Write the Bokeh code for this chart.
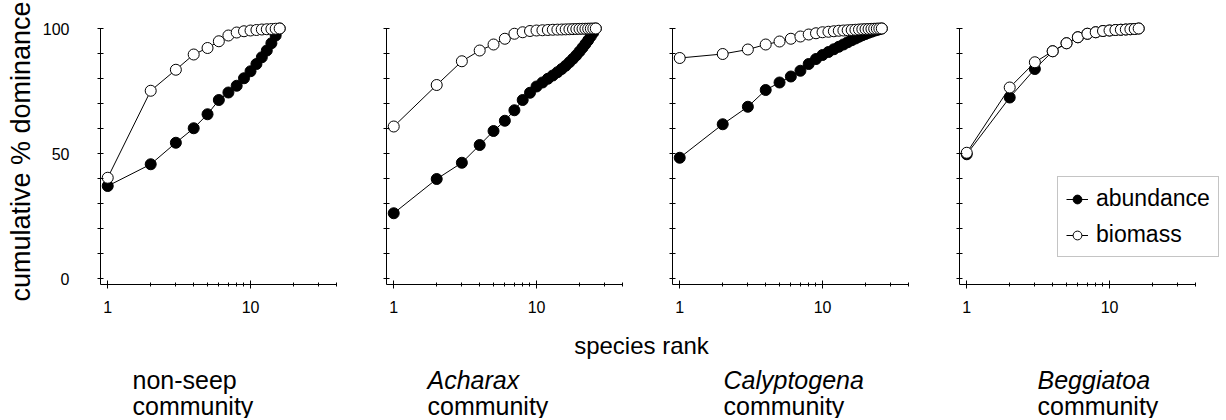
from bokeh.plotting import figure
from bokeh.layouts import row, column
from bokeh.models import (Range1d, FixedTicker, Legend, LegendItem,
                          ColumnDataSource, PrintfTickFormatter)
from bokeh.core.properties import value
from bokeh.embed import file_html
from bokeh.resources import INLINE

# ---------------- data ----------------
nonseep_abundance = [37.0, 45.7, 54.3, 60.1, 65.7, 71.4, 74.4, 77.1, 80.1, 82.9,
                     85.8, 88.5, 91.2, 94.1, 97.2, 100.0]
nonseep_biomass = [40.3, 75.1, 83.5, 89.6, 92.2, 94.9, 97.2, 98.4, 98.9, 99.2,
                   99.4, 99.6, 99.7, 99.8, 99.9, 100.0]

acharax_abundance = [26.1, 39.8, 46.3, 53.4, 59.0, 63.1, 67.3, 71.4, 74.3, 76.8,
                     78.4, 79.9, 81.2, 82.5, 83.8, 85.1, 86.5, 87.9, 89.3, 90.8,
                     92.3, 93.8, 95.3, 96.9, 98.4, 100.0]
acharax_biomass = [60.8, 77.4, 86.9, 91.2, 93.6, 95.9, 97.9, 98.5, 99.0, 99.2,
                   99.3, 99.4, 99.5, 99.55, 99.6, 99.65, 99.7, 99.75, 99.8, 99.85,
                   99.88, 99.9, 99.93, 99.96, 99.98, 100.0]

calyptogena_abundance = [48.3, 61.7, 68.7, 75.4, 78.4, 80.8, 83.1, 85.8, 87.8, 89.4,
                         90.6, 91.7, 92.7, 93.6, 94.5, 95.3, 96.0, 96.7, 97.3, 97.8,
                         98.3, 98.7, 99.1, 99.4, 99.7, 100.0]
calyptogena_biomass = [88.2, 89.8, 91.6, 93.6, 94.8, 95.9, 96.8, 97.6, 98.1, 98.5,
                       98.7, 98.9, 99.1, 99.2, 99.3, 99.4, 99.5, 99.6, 99.7, 99.75,
                       99.8, 99.85, 99.9, 99.95, 100.0, 100.0]

beggiatoa_abundance = [49.7, 72.4, 83.8, 90.9, 94.1, 96.5, 97.9, 98.5, 99.0, 99.2,
                       99.4, 99.5, 99.6, 99.7, 99.8, 100.0]
beggiatoa_biomass = [50.3, 76.4, 86.5, 90.9, 94.1, 96.5, 97.9, 98.5, 99.0, 99.2,
                     99.4, 99.5, 99.6, 99.7, 99.8, 100.0]

community_names = ["non-seep", "Acharax", "Calyptogena", "Beggiatoa"]
community_italic = [False, True, True, True]
community_word = "community"
series_labels = ["abundance", "biomass"]

x_major = [1, 10]
x_minor = [2, 3, 4, 5, 6, 7, 8, 9, 20, 30, 40]
x_tick_labels = ["1", "10"]
y_major = [0, 50, 100]
y_minor = [10, 20, 30, 40, 60, 70, 80, 90]
y_tick_labels = ["0", "50", "100"]

y_title = "cumulative % dominance"
x_title = "species rank"

panels = [
    (nonseep_abundance, nonseep_biomass),
    (acharax_abundance, acharax_biomass),
    (calyptogena_abundance, calyptogena_biomass),
    (beggiatoa_abundance, beggiatoa_biomass),
]

# ---------------- style / layout ----------------
FONT = "Liberation Sans"
X0, X1 = 0.89, 40.0
FRAME_W, FRAME_H = 236, 266
FRAME_WIDTHS = [236, 236, 236, 265]
BORDERS = [(100, 10), (40, 10), (40, 11), (40, 0)]
TOP = 18
PANEL_H = 324
TOTAL_W = 1224
TOTAL_H = 418


def make_panel(i, abund, biom):
    bl, br = BORDERS[i]
    fw = FRAME_WIDTHS[i]
    x_end = X0 * (X1 / X0) ** (fw / FRAME_W)
    p = figure(x_axis_type="log", x_range=Range1d(X0, x_end),
               y_range=Range1d(-2.4, 104),
               frame_width=fw, frame_height=FRAME_H,
               min_border_left=bl, min_border_right=br,
               min_border_top=TOP, min_border_bottom=PANEL_H - TOP - FRAME_H,
               output_backend="svg", toolbar_location=None)
    p.grid.visible = False
    p.outline_line_color = None
    p.background_fill_color = "white"
    p.border_fill_color = "white"

    xa = p.xaxis[0]
    xa.bounds = (X0, X1)
    xa.ticker = FixedTicker(ticks=x_major, minor_ticks=x_minor)
    xa.formatter = PrintfTickFormatter(format="%d")
    xa.major_label_overrides = {t: s for t, s in zip(x_major, x_tick_labels)}
    xa.major_tick_in = 4
    xa.major_tick_out = 4
    xa.minor_tick_in = 2
    xa.minor_tick_out = 2
    xa.major_label_standoff = 12
    xa.major_label_text_font = FONT
    xa.major_label_text_font_size = "16px"
    xa.major_label_text_color = "black"
    xa.axis_line_color = "black"
    xa.major_tick_line_color = "black"
    xa.minor_tick_line_color = "black"

    ya = p.yaxis[0]
    ya.bounds = (-2.4, 100)
    if i == 0:
        ya.ticker = FixedTicker(ticks=y_major, minor_ticks=y_minor)
        ya.major_label_overrides = {t: s for t, s in zip(y_major, y_tick_labels)}
        ya.axis_label = y_title
        ya.axis_label_text_font = FONT
        ya.axis_label_text_font_size = "27px"
        ya.axis_label_text_font_style = "normal"
        ya.axis_label_text_color = "black"
        ya.axis_label_standoff = 4
    else:
        ya.ticker = FixedTicker(ticks=[], minor_ticks=[0] + y_minor + [50, 100])
    ya.major_tick_in = 3
    ya.major_tick_out = 3
    ya.minor_tick_in = 3
    ya.minor_tick_out = 3
    ya.major_label_standoff = 28
    ya.major_label_text_font = FONT
    ya.major_label_text_font_size = "16px"
    ya.major_label_text_color = "black"
    ya.axis_line_color = "black"
    ya.major_tick_line_color = "black"
    ya.minor_tick_line_color = "black"

    ra = list(range(1, len(abund) + 1))
    rb = list(range(1, len(biom) + 1))
    la = p.line(ra, abund, line_color="black", line_width=1)
    sa = p.scatter(ra, abund, marker="circle", size=11, fill_color="black",
                   line_color="black", line_width=1)
    lb = p.line(rb, biom, line_color="black", line_width=1)
    sb = p.scatter(rb, biom, marker="circle", size=11, fill_color="white",
                   line_color="black", line_width=1)
    return p, (la, sa, lb, sb)


figs = []
rends = []
for i, (a, b) in enumerate(panels):
    f, r = make_panel(i, a, b)
    figs.append(f)
    rends.append(r)

la, sa, lb, sb = rends[3]
legend = Legend(items=[LegendItem(label=series_labels[0], renderers=[la, sa]),
                       LegendItem(label=series_labels[1], renderers=[lb, sb])],
                location=(98, 27), margin=0,
                label_text_font=FONT, label_text_font_size="23px",
                label_text_color="black",
                glyph_width=22, glyph_height=22, label_height=26,
                spacing=9, padding=8, label_standoff=8,
                border_line_color="#8a8a8a", border_line_width=1,
                background_fill_color="white", background_fill_alpha=1)
figs[3].add_layout(legend)

# ---------------- bottom text strip ----------------
bottom = figure(width=TOTAL_W, height=TOTAL_H - PANEL_H,
                x_range=Range1d(0, TOTAL_W),
                y_range=Range1d(TOTAL_H, PANEL_H),
                x_axis_location=None, y_axis_location=None,
                min_border=0, output_backend="svg", toolbar_location=None)
bottom.grid.visible = False
bottom.outline_line_color = None

bottom.text(x=[641], y=[345], text=[x_title], text_font=value(FONT),
            text_font_size=value("24px"), text_align="center",
            text_baseline="alphabetic", text_color="black")

name_x = [132, 427, 723, 1037]
src = ColumnDataSource(dict(
    x=name_x,
    y1=[379] * 4,
    y2=[405] * 4,
    name=community_names,
    word=[community_word] * 4,
    style=["italic" if it else "normal" for it in community_italic],
))
bottom.text(x="x", y="y1", text="name", source=src, text_font=value(FONT),
            text_font_size=value("25px"), text_font_style="style",
            text_align="left", text_baseline="alphabetic", text_color="black")
bottom.text(x="x", y="y2", text="word", source=src, text_font=value(FONT),
            text_font_size=value("25px"), text_align="left",
            text_baseline="alphabetic", text_color="black")

layout = column(row(*figs, spacing=0), bottom, spacing=0)

with open("out.html", "w") as fh:
    fh.write(file_html(layout, INLINE))
